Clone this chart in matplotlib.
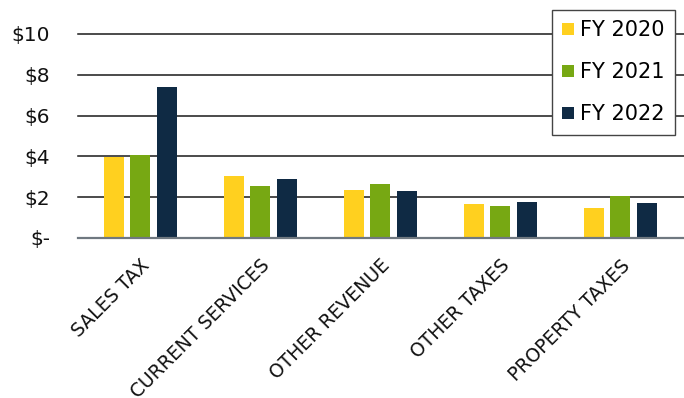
import numpy as np
import matplotlib
matplotlib.use('Agg')
from matplotlib import pyplot as plt
from matplotlib.ticker import FuncFormatter

# revenue by source, $
categories = ['SALES TAX', 'CURRENT SERVICES', 'OTHER REVENUE', 'OTHER TAXES', 'PROPERTY TAXES']
fy2020 = [3.98, 3.04, 2.35, 1.67, 1.47]
fy2021 = [4.05, 2.55, 2.65, 1.57, 2.05]
fy2022 = [7.40, 2.90, 2.30, 1.76, 1.70]
series_labels = ['FY 2020', 'FY 2021', 'FY 2022']
colors = ['#FFD01F', '#77A813', '#0F2A44']

plt.rcParams['font.family'] = ['DejaVu Sans']

fig = plt.figure(figsize=(6.84, 3.98), dpi=100)
ax = fig.add_axes([78 / 684, 160 / 398, 606 / 684, 204 / 398])

x = np.arange(len(categories))
width = 0.167
step = 0.222
for i, (vals, lab, col) in enumerate(zip([fy2020, fy2021, fy2022], series_labels, colors)):
    ax.bar(x + (i - 1) * step, vals, width=width, color=col, label=lab, zorder=3)

ax.set_xlim(-0.52, 4.53)
ax.set_ylim(0, 10)
ax.set_yticks([0, 2, 4, 6, 8, 10])
ax.yaxis.set_major_formatter(FuncFormatter(lambda v, p: '$-' if v == 0 else f'${v:.0f}'))
ax.grid(axis='y', color='#1a1a1a', linewidth=1.1, zorder=0)
for gl in ax.get_ygridlines():
    gl.set_clip_on(False)
ax.set_axisbelow(True)
for s in ['top', 'right', 'left']:
    ax.spines[s].set_visible(False)
ax.spines['bottom'].set_color('#6f7880')
ax.spines['bottom'].set_linewidth(1.6)
ax.spines['bottom'].set_zorder(4)

ax.tick_params(axis='y', length=0, pad=20, labelsize=14.5, labelcolor='#111111')
ax.tick_params(axis='x', length=0, pad=13)
ax.set_xticks(x)
ax.set_xticklabels(categories, rotation=45, ha='right', rotation_mode='anchor',
                   fontsize=13.5, color='#111111')

leg = fig.legend(loc='upper left', bbox_to_anchor=(552 / 684, 1 - 10 / 398),
                 fontsize=15, frameon=True, fancybox=False, framealpha=1,
                 edgecolor='#444444', handlelength=0.55, handleheight=0.55,
                 handletextpad=0.3, labelspacing=1.05, borderpad=0.5, borderaxespad=0)
leg.get_frame().set_linewidth(1.0)

fig.savefig('out.png', dpi=100)
